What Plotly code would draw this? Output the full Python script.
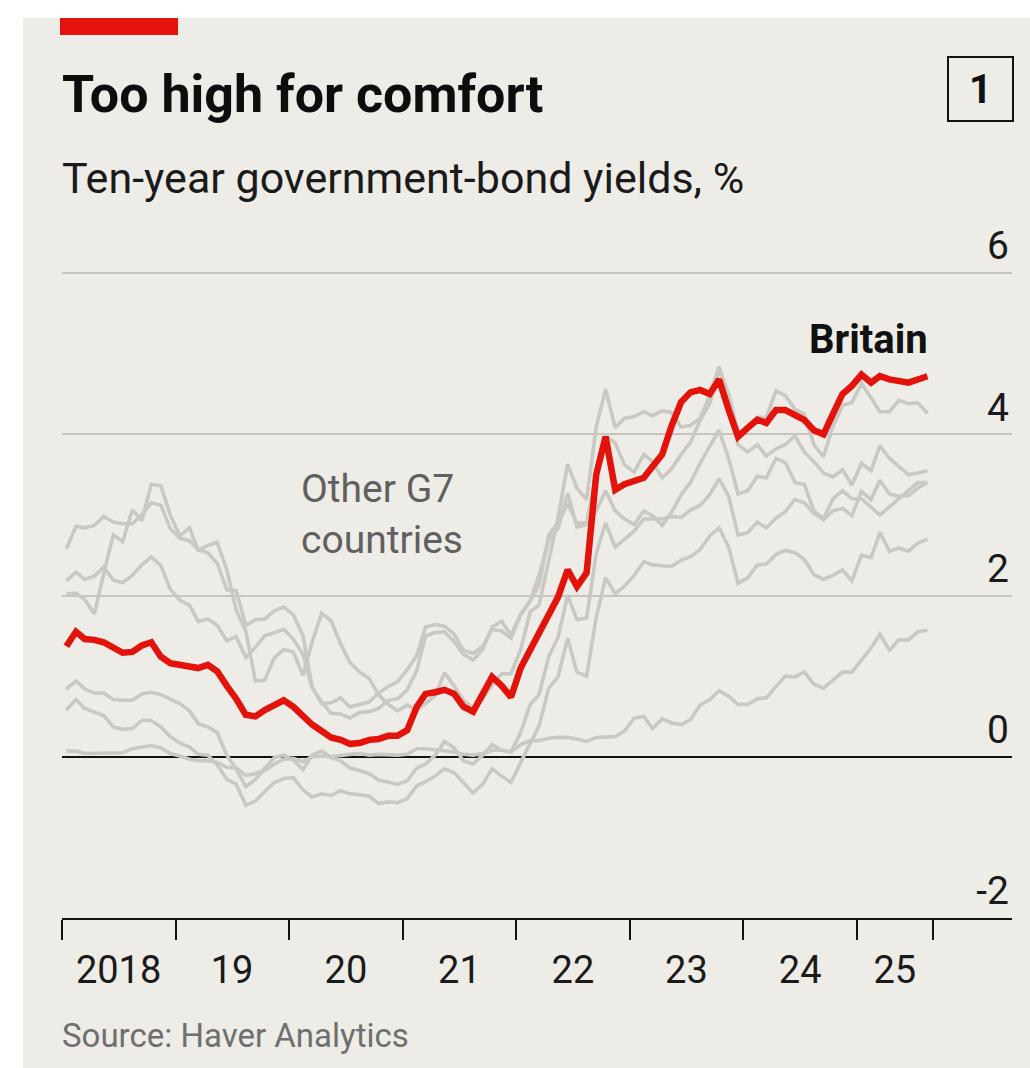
import pandas as pd
import plotly.graph_objects as go

# ---------------- data (monthly averages, Jan 2018 - Aug 2025) ----------------
start_month = "2018-01-01"
n_months = 92

britain = [1.37, 1.55, 1.46, 1.45, 1.42, 1.35, 1.29, 1.30, 1.38, 1.42, 1.24, 1.16,
           1.14, 1.12, 1.10, 1.14, 1.06, 0.88, 0.72, 0.52, 0.50, 0.58, 0.65, 0.70,
           0.62, 0.50, 0.40, 0.32, 0.24, 0.21, 0.16, 0.17, 0.21, 0.22, 0.26, 0.26,
           0.33, 0.62, 0.78, 0.80, 0.83, 0.78, 0.62, 0.56, 0.78, 0.99, 0.88, 0.74,
           1.10, 1.33, 1.50, 1.73, 1.98, 2.32, 2.11, 2.28, 3.50, 3.97, 3.31, 3.38,
           3.42, 3.46, 3.60, 3.75, 4.10, 4.40, 4.52, 4.55, 4.50, 4.68, 4.30, 3.97,
           4.08, 4.18, 4.14, 4.30, 4.30, 4.24, 4.18, 4.05, 4.00, 4.25, 4.50, 4.60,
           4.74, 4.64, 4.72, 4.68, 4.66, 4.64, 4.68, 4.72]

united_states = [2.58, 2.86, 2.84, 2.87, 2.98, 2.91, 2.89, 2.89, 3.00, 3.15, 3.12, 2.83,
                 2.71, 2.68, 2.57, 2.53, 2.40, 2.07, 2.06, 1.63, 1.70, 1.71, 1.81, 1.86,
                 1.76, 1.50, 0.87, 0.66, 0.67, 0.73, 0.62, 0.65, 0.68, 0.79, 0.87, 0.93,
                 1.08, 1.26, 1.61, 1.64, 1.62, 1.52, 1.32, 1.28, 1.37, 1.58, 1.56, 1.47,
                 1.76, 1.93, 2.13, 2.75, 2.90, 3.14, 2.90, 2.90, 3.52, 3.98, 3.89, 3.62,
                 3.53, 3.75, 3.66, 3.46, 3.57, 3.75, 3.90, 4.17, 4.38, 4.80, 4.50, 4.02,
                 4.06, 4.21, 4.21, 4.54, 4.48, 4.31, 4.25, 3.87, 3.72, 4.10, 4.36, 4.39,
                 4.63, 4.45, 4.28, 4.28, 4.42, 4.38, 4.39, 4.26]

italy = [2.02, 2.03, 1.95, 1.77, 2.27, 2.75, 2.67, 3.06, 2.93, 3.38, 3.36, 3.00,
         2.74, 2.84, 2.56, 2.62, 2.66, 2.32, 1.82, 1.56, 0.94, 0.95, 1.23, 1.33,
         1.30, 1.01, 1.42, 1.78, 1.69, 1.40, 1.17, 1.05, 0.97, 0.77, 0.65, 0.57,
         0.64, 0.58, 0.66, 0.76, 1.04, 0.88, 0.70, 0.60, 0.72, 0.89, 1.03, 1.03,
         1.33, 1.80, 1.88, 2.45, 2.96, 3.63, 3.33, 3.19, 4.09, 4.56, 4.08, 4.20,
         4.22, 4.28, 4.23, 4.29, 4.27, 4.09, 4.11, 4.20, 4.48, 4.84, 4.46, 3.87,
         3.78, 3.87, 3.73, 3.82, 3.87, 3.98, 3.78, 3.66, 3.52, 3.47, 3.56, 3.37,
         3.64, 3.55, 3.86, 3.70, 3.60, 3.50, 3.52, 3.55]

canada = [2.18, 2.29, 2.20, 2.24, 2.35, 2.19, 2.16, 2.25, 2.38, 2.48, 2.37, 2.08,
          1.94, 1.88, 1.68, 1.71, 1.63, 1.44, 1.49, 1.23, 1.36, 1.50, 1.54, 1.58,
          1.46, 1.27, 0.86, 0.68, 0.54, 0.53, 0.48, 0.55, 0.56, 0.60, 0.70, 0.72,
          0.83, 1.07, 1.50, 1.54, 1.55, 1.43, 1.27, 1.20, 1.33, 1.61, 1.68, 1.51,
          1.77, 1.94, 2.25, 2.68, 2.83, 3.27, 2.85, 2.88, 3.05, 3.30, 3.05, 2.95,
          2.88, 3.05, 2.99, 2.87, 3.03, 3.25, 3.40, 3.64, 3.85, 4.05, 3.70, 3.26,
          3.30, 3.48, 3.46, 3.70, 3.65, 3.40, 3.38, 3.05, 2.95, 3.20, 3.30, 3.20,
          3.20, 3.10, 3.00, 3.10, 3.20, 3.30, 3.40, 3.40]

france = [0.84, 0.94, 0.84, 0.79, 0.79, 0.71, 0.70, 0.70, 0.78, 0.80, 0.77, 0.71,
          0.66, 0.57, 0.41, 0.37, 0.30, 0.02, -0.15, -0.37, -0.28, -0.14, -0.01, 0.02,
          -0.04, -0.16, 0.02, 0.07, -0.01, -0.05, -0.14, -0.17, -0.21, -0.29, -0.32, -0.34,
          -0.30, -0.14, -0.09, 0.02, 0.19, 0.11, -0.05, -0.09, 0.02, 0.15, 0.08, 0.06,
          0.30, 0.65, 0.77, 1.24, 1.48, 2.00, 1.70, 1.72, 2.52, 2.90, 2.60, 2.70,
          2.80, 2.95, 2.95, 2.95, 2.98, 2.97, 3.06, 3.12, 3.25, 3.45, 3.23, 2.75,
          2.78, 2.91, 2.84, 2.96, 3.04, 3.19, 3.15, 3.02, 2.94, 3.05, 3.08, 2.99,
          3.29, 3.19, 3.43, 3.26, 3.23, 3.24, 3.33, 3.40]

germany = [0.58, 0.71, 0.60, 0.55, 0.51, 0.37, 0.34, 0.35, 0.45, 0.45, 0.37, 0.25,
           0.17, 0.12, 0.03, 0.02, -0.10, -0.28, -0.34, -0.60, -0.55, -0.43, -0.32, -0.27,
           -0.26, -0.41, -0.50, -0.46, -0.48, -0.42, -0.46, -0.47, -0.49, -0.58, -0.56, -0.57,
           -0.52, -0.36, -0.31, -0.24, -0.15, -0.20, -0.33, -0.45, -0.34, -0.15, -0.24, -0.32,
           -0.07, 0.18, 0.38, 0.85, 0.99, 1.47, 1.05, 1.00, 1.73, 2.22, 2.02, 2.12,
           2.25, 2.42, 2.38, 2.37, 2.36, 2.44, 2.48, 2.57, 2.74, 2.84, 2.60, 2.15,
           2.22, 2.38, 2.39, 2.51, 2.56, 2.53, 2.45, 2.26, 2.20, 2.25, 2.32, 2.18,
           2.50, 2.47, 2.78, 2.55, 2.59, 2.55, 2.65, 2.70]

japan = [0.07, 0.07, 0.04, 0.04, 0.05, 0.04, 0.05, 0.10, 0.12, 0.14, 0.11, 0.04,
         0.01, -0.03, -0.05, -0.05, -0.07, -0.13, -0.14, -0.23, -0.21, -0.17, -0.09, -0.03,
         -0.02, -0.06, 0.00, 0.01, 0.00, 0.02, 0.03, 0.04, 0.02, 0.03, 0.02, 0.02,
         0.03, 0.10, 0.10, 0.09, 0.08, 0.06, 0.03, 0.02, 0.04, 0.08, 0.08, 0.06,
         0.15, 0.20, 0.20, 0.23, 0.24, 0.24, 0.22, 0.19, 0.24, 0.25, 0.25, 0.32,
         0.48, 0.50, 0.35, 0.47, 0.42, 0.40, 0.46, 0.64, 0.71, 0.82, 0.75, 0.65,
         0.65, 0.72, 0.73, 0.87, 1.00, 0.99, 1.05, 0.90, 0.85, 0.95, 1.05, 1.05,
         1.20, 1.35, 1.52, 1.32, 1.45, 1.45, 1.55, 1.57]

other_g7 = {"United States": united_states, "Italy": italy, "Canada": canada,
            "France": france, "Germany": germany, "Japan": japan}

year_ticks = ["2018-01-01", "2019-01-01", "2020-01-01", "2021-01-01", "2022-01-01",
              "2023-01-01", "2024-01-01", "2025-01-01", "2025-09-01"]
year_label_pos = ["2018-07-02", "2019-07-02", "2020-07-02", "2021-07-02", "2022-07-02",
                  "2023-07-02", "2024-07-02", "2025-05-02"]
year_labels = ["2018", "19", "20", "21", "22", "23", "24", "25"]
y_ticks = [-2, 0, 2, 4, 6]
y_tick_text = ["-2", "0", "2", "4", "6"]

# ---------------- styling ----------------
BG = "#edece6"
RED = "#e3120b"
GREY = "#c9c8c2"
GRID = "#c6c4bd"
FONT = "Roboto, Liberation Sans, Arial, sans-serif"

dates = pd.date_range(start_month, periods=n_months, freq="MS") + pd.Timedelta(days=14)

fig = go.Figure()
for name, vals in other_g7.items():
    fig.add_trace(go.Scatter(x=dates, y=vals, mode="lines", name=name,
                             line=dict(color=GREY, width=3.6), hoverinfo="skip"))
fig.add_trace(go.Scatter(x=dates, y=britain, mode="lines", name="Britain",
                         line=dict(color=RED, width=6.5)))

W, H = 1030, 1068
L, R, T, B = 62, 18, 269, 150
pw, ph = W - L - R, H - T - B


def px(x):
    return (x - L) / pw


def py(y):
    return (H - B - y) / ph


fig.update_layout(
    width=W, height=H, autosize=False,
    margin=dict(l=L, r=R, t=T, b=B, pad=0),
    paper_bgcolor=BG, plot_bgcolor=BG,
    showlegend=False,
    font=dict(family=FONT, color="#1a1a1a"),
    xaxis=dict(
        type="date", range=["2018-01-01", "2026-05-14"],
        tickmode="array", tickvals=year_label_pos, ticktext=year_labels,
        ticks="", showgrid=False, zeroline=False,
        showline=True, linecolor="#111111", linewidth=2,
        tickfont=dict(size=38, color="#1a1a1a"),
        ticklabelstandoff=17,
        minor=dict(tickmode="array", tickvals=year_ticks, ticks="outside",
                   ticklen=20, tickwidth=2, tickcolor="#111111", showgrid=False),
        fixedrange=True,
    ),
    yaxis=dict(
        range=[-2, 6.05], side="right", tickmode="array", tickvals=y_ticks,
        ticktext=y_tick_text, ticks="", ticklabelposition="inside top",
        ticklabeloverflow="allow",
        showgrid=True, gridcolor=GRID, gridwidth=2,
        zeroline=True, zerolinecolor="#111111", zerolinewidth=2,
        showline=False,
        tickfont=dict(size=39, color="#1a1a1a"),
        fixedrange=True,
    ),
)

shapes = [
    # white page margin strips
    dict(type="rect", xref="paper", yref="paper", x0=px(0), x1=px(23), y0=py(H), y1=py(0),
         fillcolor="#ffffff", line=dict(width=0), layer="above"),
    dict(type="rect", xref="paper", yref="paper", x0=px(0), x1=px(W), y0=py(18), y1=py(0),
         fillcolor="#ffffff", line=dict(width=0), layer="above"),
    # red tag
    dict(type="rect", xref="paper", yref="paper", x0=px(60), x1=px(178), y0=py(35), y1=py(18),
         fillcolor=RED, line=dict(width=0), layer="above"),
    # chart number box
    dict(type="rect", xref="paper", yref="paper", x0=px(948), x1=px(1013), y0=py(121), y1=py(57),
         fillcolor="rgba(0,0,0,0)", line=dict(color="#111111", width=2), layer="above"),
]
fig.update_layout(shapes=shapes)

annotations = [
    dict(text="<b>Too high for comfort</b>", x=px(60), y=py(94), xanchor="left", yanchor="middle",
         font=dict(size=52, color="#0d0d0d")),
    dict(text="Ten-year government-bond yields, %", x=px(60), y=py(178), xanchor="left",
         yanchor="middle", font=dict(size=43, color="#1a1a1a")),
    dict(text="<b>1</b>", x=px(980.5), y=py(90), xanchor="center", yanchor="middle",
         font=dict(size=40, color="#111111")),
    dict(text="Source: Haver Analytics", x=px(60), y=py(1035), xanchor="left", yanchor="middle",
         font=dict(size=33, color="#6f6f6f")),
]
for a in annotations:
    a.update(xref="paper", yref="paper", showarrow=False)
fig.update_layout(annotations=annotations)

fig.add_annotation(text="<b>Britain</b>", x=dates[-1], y=5.18, xref="x", yref="y",
                   xanchor="right", yanchor="middle", showarrow=False, xshift=3,
                   font=dict(size=40, color="#111111"))
fig.add_annotation(text="Other G7<br>countries", x="2020-02-03", y=3.0, xref="x", yref="y",
                   xanchor="left", yanchor="middle", align="left", showarrow=False,
                   font=dict(size=39, color="#606060"))

fig.write_html("out.html", config={"displayModeBar": False},
               post_script="document.body.style.margin='0';document.body.style.overflow='hidden';")
